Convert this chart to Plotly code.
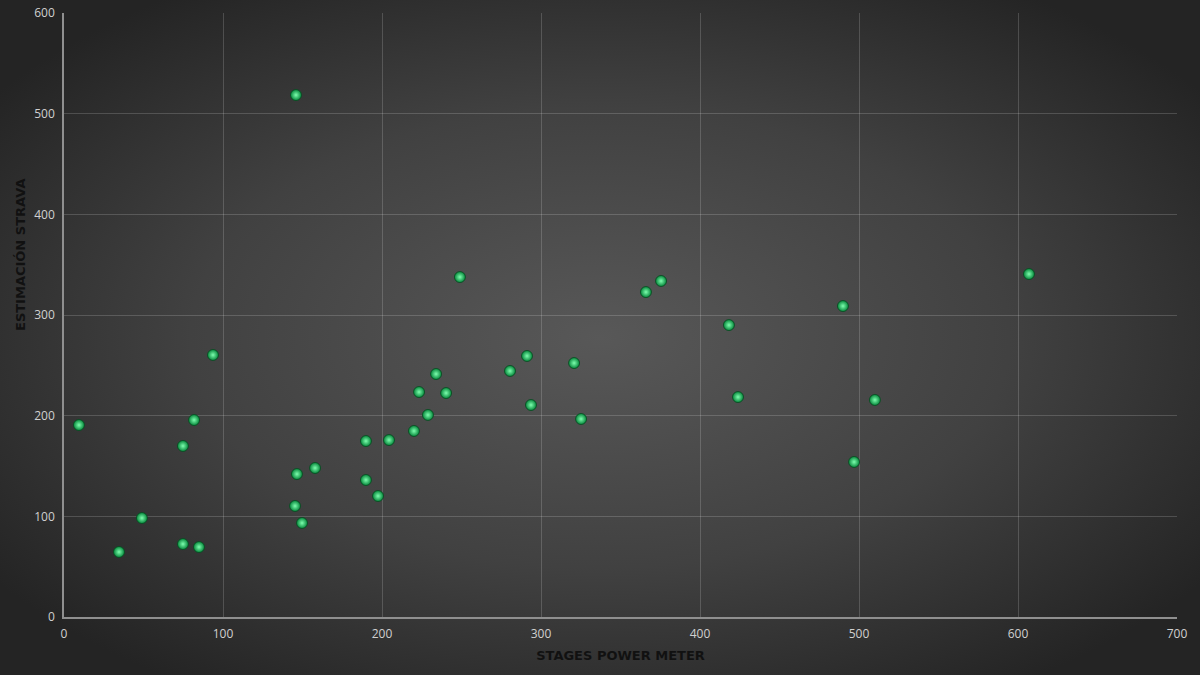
import plotly.graph_objects as go

# Stages power meter vs Strava estimate (W)
stages_power = [9.4, 34.6, 49, 74.8, 74.8, 81.8, 84.9, 93.7, 145.9, 145.3, 146.5, 149.7,
                157.9, 189.9, 189.9, 197.5, 204.4, 220.1, 223.3, 228.9, 234, 240.3, 249,
                280.5, 291.2, 293.7, 320.8, 325.2, 366, 375.5, 418.2, 423.9, 489.9, 496.9,
                510, 606.9]
strava_estimate = [190.7, 64.6, 98.3, 169.9, 72.5, 195.7, 69.5, 260.3, 518.5, 110.3, 142, 93.4,
                   148, 174.8, 136.1, 120.2, 175.8, 184.8, 223.5, 200.7, 241.4, 222.5, 337.7,
                   244.4, 259.3, 210.6, 252.3, 196.7, 322.8, 333.8, 290, 218.5, 308.9, 154,
                   215.6, 340.7]

x_ticks = [0, 100, 200, 300, 400, 500, 600, 700]
y_ticks = [0, 100, 200, 300, 400, 500, 600]

W, H = 1200, 675
M_L, M_R, M_T, M_B = 64, 23, 13, 58
PW, PH = W - M_L - M_R, H - M_T - M_B

# radial background as inline svg
bg_svg = (
    "data:image/svg+xml;utf8,"
    "<svg xmlns='http://www.w3.org/2000/svg' width='1200' height='675' viewBox='0 0 1200 675' preserveAspectRatio='none'>"
    "<defs><radialGradient id='g' cx='50%' cy='50%' r='62%'>"
    "<stop offset='0%' stop-color='%23585858'/>"
    "<stop offset='55%' stop-color='%23414141'/>"
    "<stop offset='100%' stop-color='%23242424'/>"
    "</radialGradient></defs>"
    "<rect width='1200' height='675' fill='url(%23g)'/></svg>"
)

fig = go.Figure()
fig.add_trace(go.Scatter(
    x=stages_power, y=strava_estimate, mode="markers",
    marker=dict(size=11, color="#05853a",
                gradient=dict(type="radial", color="#7dffae"),
                line=dict(color="#064a20", width=0.8)),
    hoverinfo="x+y", showlegend=False,
))

axis_common = dict(
    showgrid=True, gridcolor="rgba(255,255,255,0.17)", gridwidth=1,
    zeroline=False, showline=True, linecolor="#8f8f8f", linewidth=1.5,
    ticks="outside", ticklen=5, tickcolor="rgba(0,0,0,0)",
    tickfont=dict(family="Open Sans", size=12, color="#d0d0d0"),
    automargin=False,
)

title_font = dict(family="DejaVu Sans", size=13, color="#111111")

fig.update_layout(
    width=W, height=H,
    margin=dict(l=M_L, r=M_R, t=M_T, b=M_B),
    paper_bgcolor="#2e2e2e",
    plot_bgcolor="rgba(0,0,0,0)",
    font=dict(family="Open Sans", color="#d0d0d0", size=12),
    images=[dict(source=bg_svg, xref="paper", yref="paper",
                 x=-M_L / PW, y=1 + M_T / PH, sizex=W / PW, sizey=H / PH,
                 xanchor="left", yanchor="top", sizing="stretch", layer="below")],
    xaxis=dict(range=[0, 700], tickvals=x_ticks, **axis_common,
               title=dict(text="<b>STAGES POWER METER</b>", standoff=10, font=title_font)),
    yaxis=dict(range=[0, 600], tickvals=y_ticks, **axis_common),
    # Excel places the y title above centre, so it goes in as an annotation
    annotations=[dict(text="<b>ESTIMACIÓN STRAVA</b>", textangle=-90, showarrow=False,
                      xref="paper", yref="paper", x=(20 - M_L) / PW, y=(617 - 255) / PH,
                      xanchor="center", yanchor="middle", font=title_font)],
)

fig.write_html("out.html", config={"displayModeBar": False},
               post_script="document.body.style.margin='0';")
